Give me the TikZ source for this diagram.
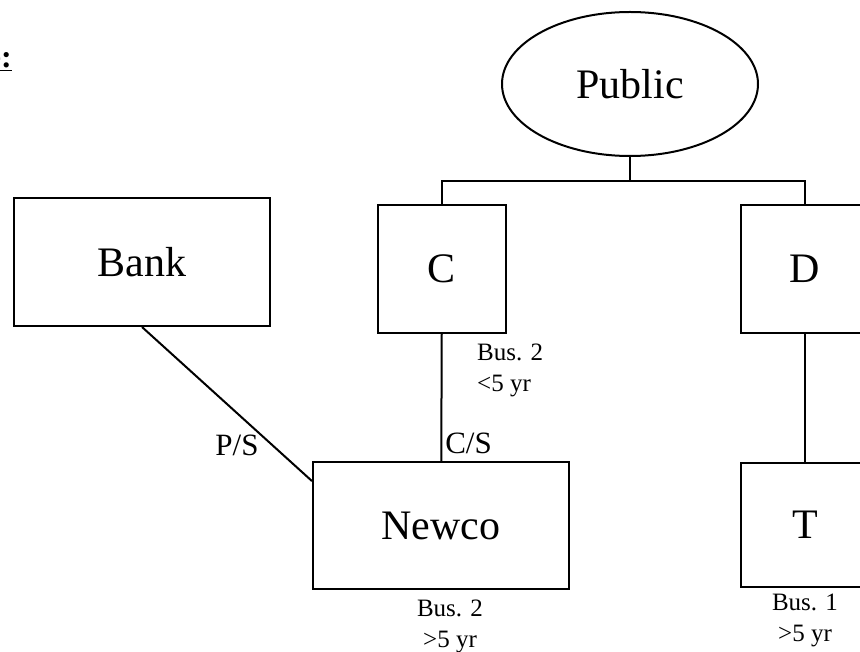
\documentclass[tikz,border=0pt]{standalone}
\usepackage{fontspec}
\setmainfont{Liberation Serif}
\usepackage{xcolor}
\usepackage{tikz}
\usetikzlibrary{shapes.geometric, positioning}

\begin{document}
\begin{tikzpicture}[
    x=1pt, y=-1pt,
    entity/.style={rectangle, draw=black, line width=2pt, minimum width=256pt, minimum height=128pt, inner sep=0pt, font=\fontsize{42}{48}\selectfont},
    small/.style={entity, minimum width=128pt},
    owner/.style={ellipse, draw=black, line width=2pt, minimum width=256pt, minimum height=144pt, inner sep=0pt, font=\fontsize{42}{48}\selectfont},
    tag/.style={inner sep=0pt, font=\fontsize{31}{36}\selectfont},
    note/.style={inner sep=0pt, align=center, font=\fontsize{25}{31}\selectfont},
    link/.style={line width=2pt},
]
\useasboundingbox (0,0) rectangle (860,652);

% Heading (cut off at the left edge)
\node[anchor=base east, inner sep=0pt, font=\fontsize{32}{36}\selectfont\bfseries] (heading) at (12,68) {\underline{e:}};

% Entities
\node[owner] (public) at (630,84) {Public};
\node[entity] (bank) at (142,262) {Bank};
\node[small] (c) at (442,269) {C};
\node[small] (d) at (805,269) {D};
\node[entity, minimum height=127pt] (newco) at (441,525.5) {Newco};
\node[small, minimum height=124pt] (t) at (805,525) {T};

% Relationships
\coordinate (fork) at (630,181);
\draw[link] (public) -- (fork);
\draw[link] (fork) -| (c);
\draw[link] (fork) -| (d);
\draw[link] (c) -- node[pos=1, anchor=south west, tag, xshift=3pt, yshift=6pt] {C/S} (newco);
\draw[link] (d) -- (t);
\draw[link] (bank.south) -- (newco.161);
\node[tag] (ps) at (237,445) {P/S};

% Notes
\node[note, align=left, below right=10pt and 35pt of c.south] (cnote) {Bus. 2\\<5 yr};
\node[note, below=10pt of newco.south, xshift=9pt] (newconote) {Bus. 2\\>5 yr};
\node[note, below=6pt of t.south] (tnote) {Bus. 1\\>5 yr};

\end{tikzpicture}
\end{document}
